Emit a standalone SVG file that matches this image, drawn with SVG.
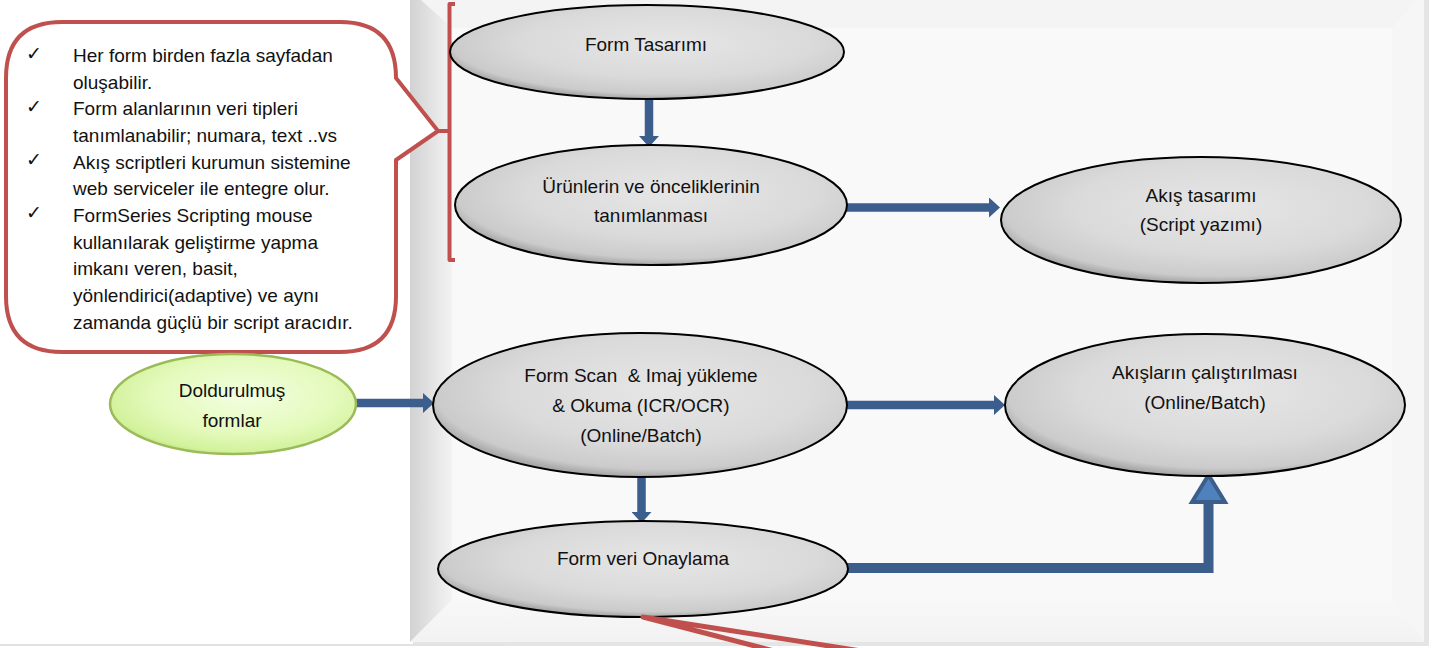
<svg xmlns="http://www.w3.org/2000/svg" width="1440" height="648" viewBox="0 0 1440 648">
<defs>
<style>
.lbl{font-family:"Liberation Sans",Arial,sans-serif;font-size:19px;fill:#111;text-anchor:middle}
.cal{font-family:"Liberation Sans",Arial,sans-serif;font-size:19px;fill:#111}
.chk{font-family:"DejaVu Sans",sans-serif;font-size:19px;fill:#111}
.gray{fill:url(#gg);stroke:#000;stroke-width:2}
.green{fill:url(#gr);stroke:#9bbb59;stroke-width:2.5}
.conn{fill:none;stroke:#3b5e8c;stroke-width:8.5}
.red{fill:none;stroke:#c0504d;stroke-width:4;stroke-linejoin:round}
</style>
<radialGradient id="gg" cx="0.55" cy="0.4" r="0.62">
<stop offset="0" stop-color="#e6e6e6"/>
<stop offset="0.6" stop-color="#dadada"/>
<stop offset="0.88" stop-color="#cbcbcb"/>
<stop offset="1" stop-color="#9a9a9a"/>
</radialGradient>
<radialGradient id="gr" cx="0.55" cy="0.42" r="0.62">
<stop offset="0" stop-color="#f2ffe0"/>
<stop offset="0.6" stop-color="#e4fabc"/>
<stop offset="0.9" stop-color="#d2f29c"/>
<stop offset="1" stop-color="#b8e07a"/>
</radialGradient>
<linearGradient id="lstrip" x1="0" y1="0" x2="1" y2="0">
<stop offset="0" stop-color="#d2d2d2"/>
<stop offset="1" stop-color="#f3f3f3"/>
</linearGradient>
<linearGradient id="bstrip" x1="0" y1="0" x2="0" y2="1">
<stop offset="0" stop-color="#f8f8f8"/>
<stop offset="1" stop-color="#f2f2f2"/>
</linearGradient>
<marker id="ah" viewBox="0 -10 11 20" refX="0" refY="0" markerWidth="11" markerHeight="20" markerUnits="userSpaceOnUse" orient="auto">
<path d="M0,-10 L11,0 L0,10 z" fill="#3b5e8c"/>
</marker>
</defs>
<rect x="0" y="0" width="1440" height="648" fill="#ffffff"/>
<g id="panel">
<rect x="413" y="-10" width="1016" height="656" fill="#d4d4d4" opacity="0.6"/>
<rect x="410" y="-10" width="1014" height="652" fill="#f4f4f4"/>
<polygon points="410,-10 452,28 452,600 410,642" fill="url(#lstrip)"/>
<polygon points="410,642 452,600 1392,600 1424,642" fill="url(#bstrip)"/>
<polygon points="1424,-10 1392,28 1392,600 1424,642" fill="#f6f6f6"/>
<rect x="452" y="28" width="940" height="572" fill="#f9f9f9"/>
<line x1="0" y1="645" x2="505" y2="645" stroke="#e2e2e2" stroke-width="2"/>
</g>
<g id="connectors">
<path class="conn" d="M649,100 V136" marker-end="url(#ah)"/>
<path class="conn" d="M847,207.5 H989" marker-end="url(#ah)"/>
<path class="conn" d="M356,403 H423" marker-end="url(#ah)"/>
<path class="conn" d="M847,405 H994" marker-end="url(#ah)"/>
<path class="conn" d="M641.5,478 V512" marker-end="url(#ah)"/>
<path d="M847,568 H1208.5 V503" fill="none" stroke="#3b5e8c" stroke-width="10"/>
<polygon points="1192,502 1208.5,475 1225,502" fill="#4f81bd" stroke="#3b5e8c" stroke-width="4" stroke-linejoin="miter"/>
</g>
<g id="callout">
<path class="red" style="fill:#ffffff" d="M62,22 H340 Q396,22 396,78 L438,131 L396,160 V296 Q396,352 340,352 H62 Q6,352 6,296 V78 Q6,22 62,22 Z"/>
<text class="chk" x="26" y="60">✓</text>
<text class="chk" x="26" y="113">✓</text>
<text class="chk" x="26" y="166">✓</text>
<text class="chk" x="26" y="219">✓</text>
<text class="cal" x="73" y="62">Her form birden fazla sayfadan</text>
<text class="cal" x="73" y="89">oluşabilir.</text>
<text class="cal" x="73" y="115">Form alanlarının veri tipleri</text>
<text class="cal" x="73" y="142">tanımlanabilir; numara, text ..vs</text>
<text class="cal" x="73" y="169">Akış scriptleri kurumun sistemine</text>
<text class="cal" x="73" y="195">web serviceler ile entegre olur.</text>
<text class="cal" x="73" y="222">FormSeries Scripting mouse</text>
<text class="cal" x="73" y="249">kullanılarak geliştirme yapma</text>
<text class="cal" x="73" y="275">imkanı veren, basit,</text>
<text class="cal" x="73" y="302">yönlendirici(adaptive) ve aynı</text>
<text class="cal" x="73" y="329">zamanda güçlü bir script aracıdır.</text>
</g>
<g id="bracket">
<path class="red" d="M455,4 H449.5 V260 H455 M438,131 H449.5"/>
</g>
<g id="n-form-tasarimi">
<ellipse class="gray" cx="647" cy="52" rx="197" ry="47"/>
<text class="lbl" x="646" y="51">Form Tasarımı</text>
</g>
<g id="n-urunler">
<ellipse class="gray" cx="651" cy="205" rx="196" ry="60"/>
<text class="lbl" x="651" y="193">Ürünlerin ve önceliklerinin</text>
<text class="lbl" x="651" y="222">tanımlanması</text>
</g>
<g id="n-akis-tasarimi">
<ellipse class="gray" cx="1201" cy="220" rx="200" ry="63"/>
<text class="lbl" x="1201" y="202">Akış tasarımı</text>
<text class="lbl" x="1201" y="231">(Script yazımı)</text>
</g>
<g id="n-doldurulmus">
<ellipse class="green" cx="233" cy="404" rx="123" ry="50"/>
<text class="lbl" x="232" y="397">Doldurulmuş</text>
<text class="lbl" x="232" y="427">formlar</text>
</g>
<g id="n-form-scan">
<ellipse class="gray" cx="640" cy="405" rx="207" ry="72"/>
<text class="lbl" x="641" y="382" xml:space="preserve">Form Scan  &amp; Imaj yükleme</text>
<text class="lbl" x="641" y="412">&amp; Okuma (ICR/OCR)</text>
<text class="lbl" x="641" y="442">(Online/Batch)</text>
</g>
<g id="n-akislarin">
<ellipse class="gray" cx="1205" cy="405" rx="200" ry="71"/>
<text class="lbl" x="1205" y="379">Akışların çalıştırılması</text>
<text class="lbl" x="1205" y="409">(Online/Batch)</text>
</g>
<g id="n-form-veri">
<ellipse class="gray" cx="643" cy="569" rx="205" ry="48"/>
<text class="lbl" x="643" y="565">Form veri Onaylama</text>
</g>
<g id="bottom-callout">
<path d="M643,617 L868,652 M643,617 L778,652" fill="none" stroke="#c0504d" stroke-width="5" stroke-linecap="round"/>
</g>
</svg>
